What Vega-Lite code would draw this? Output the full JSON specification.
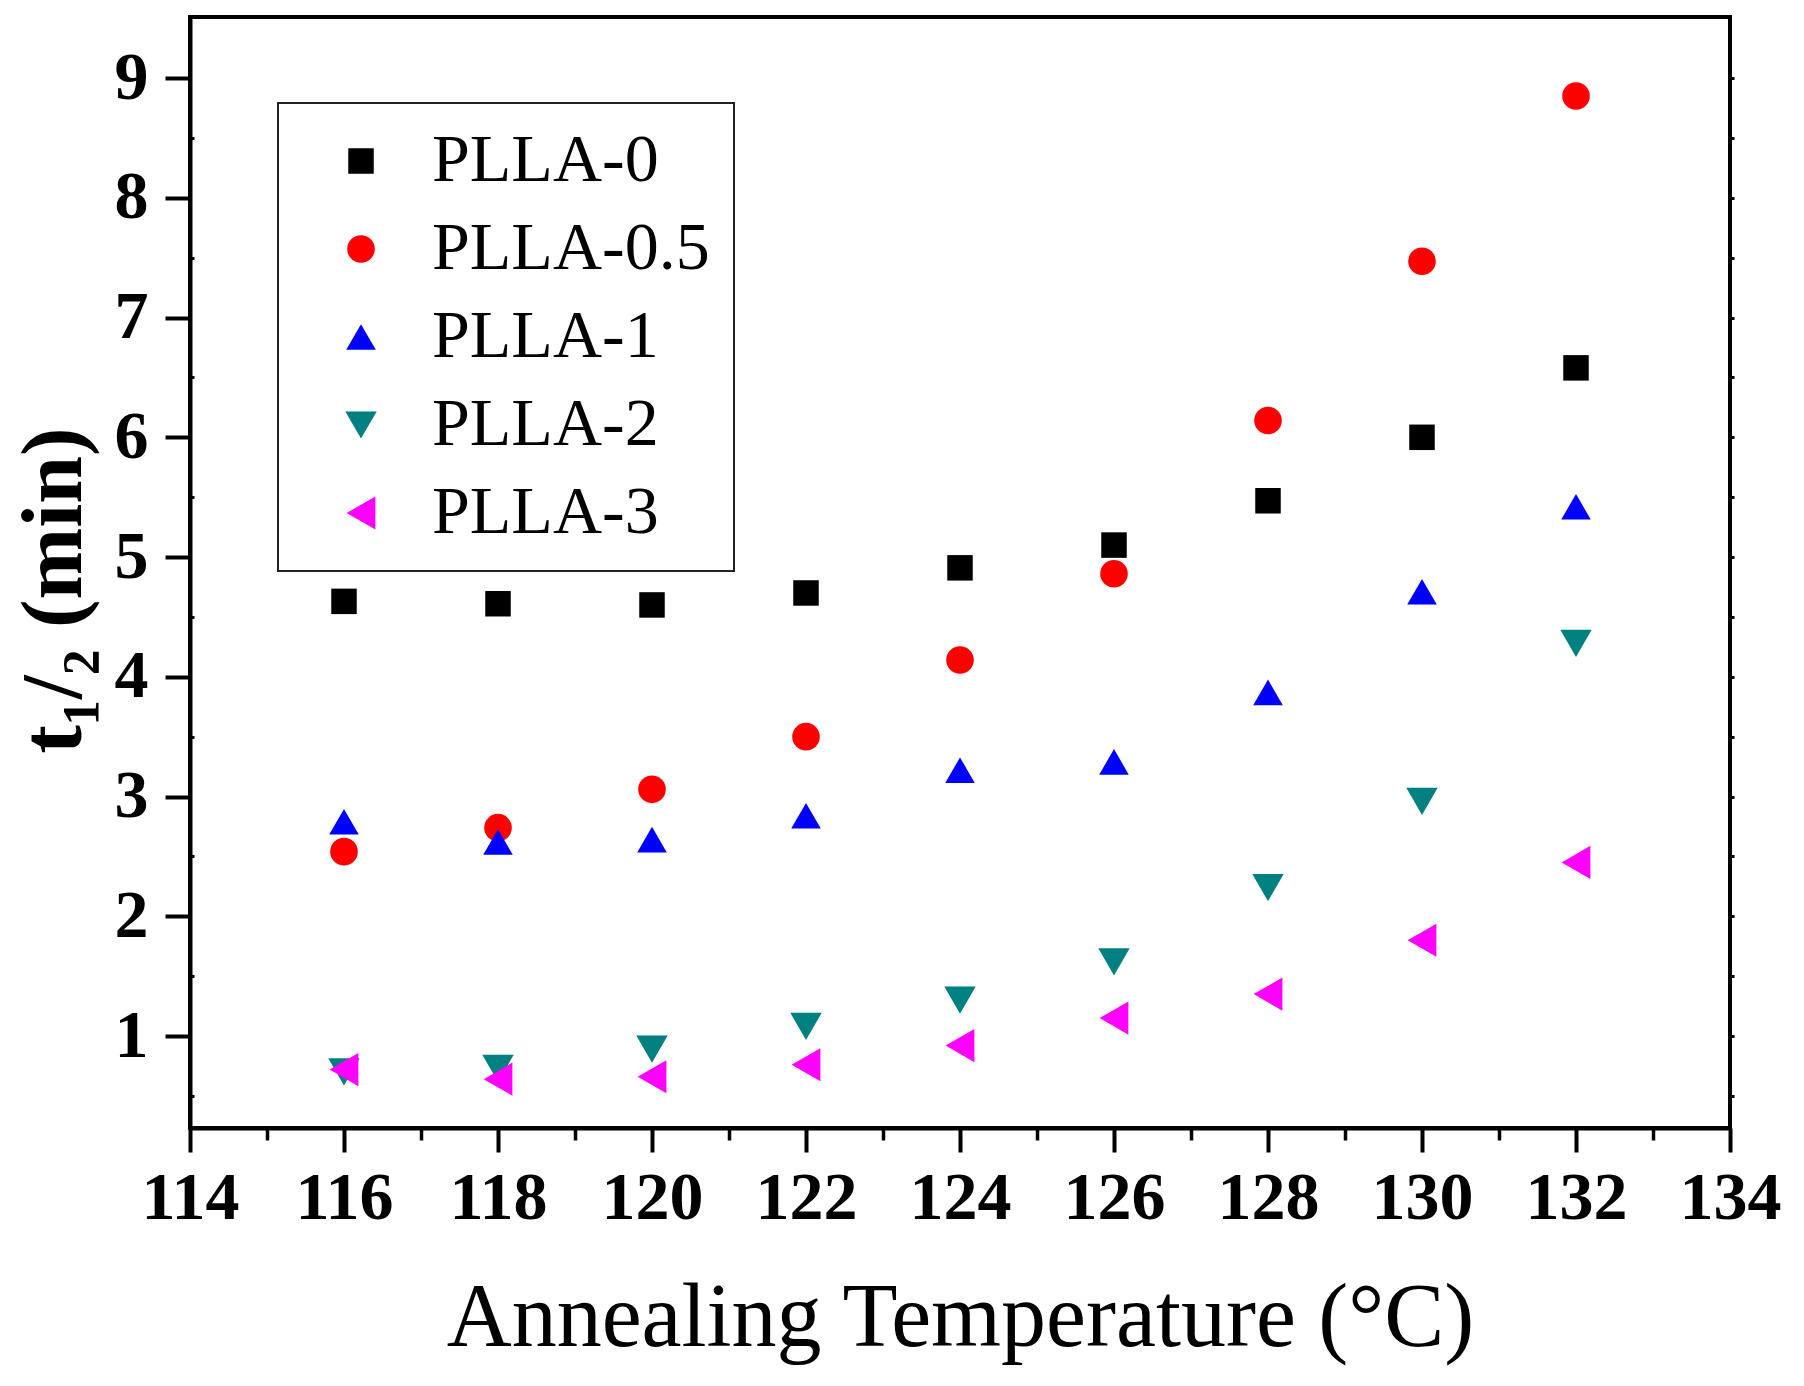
{
  "$schema": "https://vega.github.io/schema/vega-lite/v6.json",
  "autosize": {"type": "none"},
  "padding": {"left": 190, "top": 17, "right": 74, "bottom": 258},
  "width": 1540,
  "height": 1111,
  "background": "white",
  "config": {
    "view": {"stroke": "black", "strokeWidth": 4},
    "font": "Liberation Serif",
    "legend": {"strokeWidth": 2}
  },
  "data": {
    "values": [
      {"T": 116, "s": "PLLA-0", "t": 4.63},
      {"T": 118, "s": "PLLA-0", "t": 4.61},
      {"T": 120, "s": "PLLA-0", "t": 4.60},
      {"T": 122, "s": "PLLA-0", "t": 4.70},
      {"T": 124, "s": "PLLA-0", "t": 4.91},
      {"T": 126, "s": "PLLA-0", "t": 5.10},
      {"T": 128, "s": "PLLA-0", "t": 5.47},
      {"T": 130, "s": "PLLA-0", "t": 6.00},
      {"T": 132, "s": "PLLA-0", "t": 6.58},
      {"T": 116, "s": "PLLA-0.5", "t": 2.54},
      {"T": 118, "s": "PLLA-0.5", "t": 2.74},
      {"T": 120, "s": "PLLA-0.5", "t": 3.06},
      {"T": 122, "s": "PLLA-0.5", "t": 3.50},
      {"T": 124, "s": "PLLA-0.5", "t": 4.14},
      {"T": 126, "s": "PLLA-0.5", "t": 4.86},
      {"T": 128, "s": "PLLA-0.5", "t": 6.14},
      {"T": 130, "s": "PLLA-0.5", "t": 7.47},
      {"T": 132, "s": "PLLA-0.5", "t": 8.85},
      {"T": 116, "s": "PLLA-1", "t": 2.79},
      {"T": 118, "s": "PLLA-1", "t": 2.62},
      {"T": 120, "s": "PLLA-1", "t": 2.64},
      {"T": 122, "s": "PLLA-1", "t": 2.84},
      {"T": 124, "s": "PLLA-1", "t": 3.22},
      {"T": 126, "s": "PLLA-1", "t": 3.29},
      {"T": 128, "s": "PLLA-1", "t": 3.87},
      {"T": 130, "s": "PLLA-1", "t": 4.71},
      {"T": 132, "s": "PLLA-1", "t": 5.42},
      {"T": 116, "s": "PLLA-2", "t": 0.70},
      {"T": 118, "s": "PLLA-2", "t": 0.73},
      {"T": 120, "s": "PLLA-2", "t": 0.89},
      {"T": 122, "s": "PLLA-2", "t": 1.08},
      {"T": 124, "s": "PLLA-2", "t": 1.30},
      {"T": 126, "s": "PLLA-2", "t": 1.62},
      {"T": 128, "s": "PLLA-2", "t": 2.24},
      {"T": 130, "s": "PLLA-2", "t": 2.96},
      {"T": 132, "s": "PLLA-2", "t": 4.28},
      {"T": 116, "s": "PLLA-3", "t": 0.72},
      {"T": 118, "s": "PLLA-3", "t": 0.64},
      {"T": 120, "s": "PLLA-3", "t": 0.66},
      {"T": 122, "s": "PLLA-3", "t": 0.76},
      {"T": 124, "s": "PLLA-3", "t": 0.92},
      {"T": 126, "s": "PLLA-3", "t": 1.15},
      {"T": 128, "s": "PLLA-3", "t": 1.35},
      {"T": 130, "s": "PLLA-3", "t": 1.80},
      {"T": 132, "s": "PLLA-3", "t": 2.45}
    ]
  },
  "resolve": {"scale": {"x": "shared", "y": "shared"}, "axis": {"x": "independent", "y": "independent"}},
  "layer": [
    {
      "mark": {"type": "point", "filled": true, "opacity": 0},
      "encoding": {
        "x": {"field": "T", "type": "quantitative", "scale": {"domain": [114, 134], "nice": false, "zero": false},
          "axis": {"orient": "bottom", "values": [115, 117, 119, 121, 123, 125, 127, 129, 131, 133], "labels": false, "domain": false, "grid": false, "tickSize": 12, "tickWidth": 3.5, "tickColor": "black", "title": null}},
        "y": {"field": "t", "type": "quantitative", "scale": {"domain": [0.232, 9.51], "nice": false, "zero": false},
          "axis": {"orient": "left", "values": [0.5, 1.5, 2.5, 3.5, 4.5, 5.5, 6.5, 7.5, 8.5], "labels": false, "domain": false, "grid": false, "tickSize": -4, "tickWidth": 3, "tickColor": "black", "title": null}}
      }
    },
    {
      "mark": {"type": "point", "filled": true, "opacity": 0},
      "encoding": {
        "x": {"field": "T", "type": "quantitative", "axis": null},
        "y": {"field": "t", "type": "quantitative",
          "axis": {"orient": "right", "values": [0.5, 1, 1.5, 2, 2.5, 3, 3.5, 4, 4.5, 5, 5.5, 6, 6.5, 7, 7.5, 8, 8.5, 9], "labels": false, "domain": false, "grid": false, "tickSize": 4, "tickWidth": 3, "tickColor": "black", "title": null}}
      }
    },
    {
      "mark": {"type": "point", "filled": true, "opacity": 1, "strokeWidth": 0},
      "encoding": {
        "x": {"field": "T", "type": "quantitative",
          "axis": {"orient": "bottom", "values": [114, 116, 118, 120, 122, 124, 126, 128, 130, 132, 134], "grid": false,
            "domain": true, "domainColor": "black", "domainWidth": 4,
            "tickSize": 24, "tickWidth": 4, "tickColor": "black",
            "labelFont": "Liberation Serif", "labelFontWeight": "bold", "labelFontSize": 68, "labelColor": "black", "labelPadding": 12, "labelFlush": false,
            "title": "Annealing Temperature (°C)", "titleFont": "Liberation Serif", "titleFontWeight": "normal", "titleFontSize": 90, "titleColor": "black", "titlePadding": 42}},
        "y": {"field": "t", "type": "quantitative",
          "axis": {"orient": "left", "values": [1, 2, 3, 4, 5, 6, 7, 8, 9], "grid": false,
            "domain": true, "domainColor": "black", "domainWidth": 4,
            "tickSize": 25, "tickWidth": 4, "tickColor": "black",
            "labelFont": "Liberation Serif", "labelFontWeight": "bold", "labelFontSize": 68, "labelColor": "black", "labelPadding": 17, "labelFlush": false,
            "title": "t₁/₂ (min)", "titleFont": "Liberation Serif", "titleFontWeight": "bold", "titleFontSize": 86, "titleColor": "black", "titlePadding": 16, "titleY": 573}},
        "color": {"field": "s", "type": "nominal",
          "scale": {"domain": ["PLLA-0", "PLLA-0.5", "PLLA-1", "PLLA-2", "PLLA-3"], "range": ["#000000", "#ff0000", "#0000ff", "#008080", "#ff00ff"]},
          "legend": {"orient": "none", "legendX": 88, "legendY": 86, "title": null, "direction": "vertical",
            "strokeColor": "#222222", "fillColor": "white", "padding": 24,
            "labelFont": "Liberation Serif", "labelFontSize": 68, "labelFontWeight": "normal", "labelColor": "black", "labelOffset": 37,
            "symbolOffset": 25, "rowPadding": 20, "symbolStrokeWidth": 0, "labelLimit": 0}},
        "shape": {"field": "s", "type": "nominal",
          "scale": {"domain": ["PLLA-0", "PLLA-0.5", "PLLA-1", "PLLA-2", "PLLA-3"], "range": ["square", "circle", "triangle-up", "triangle-down", "triangle-left"]}},
        "size": {"field": "s", "type": "nominal",
          "scale": {"domain": ["PLLA-0", "PLLA-0.5", "PLLA-1", "PLLA-2", "PLLA-3"], "range": [650, 1100, 2000, 2000, 2000]}}
      }
    }
  ]
}
